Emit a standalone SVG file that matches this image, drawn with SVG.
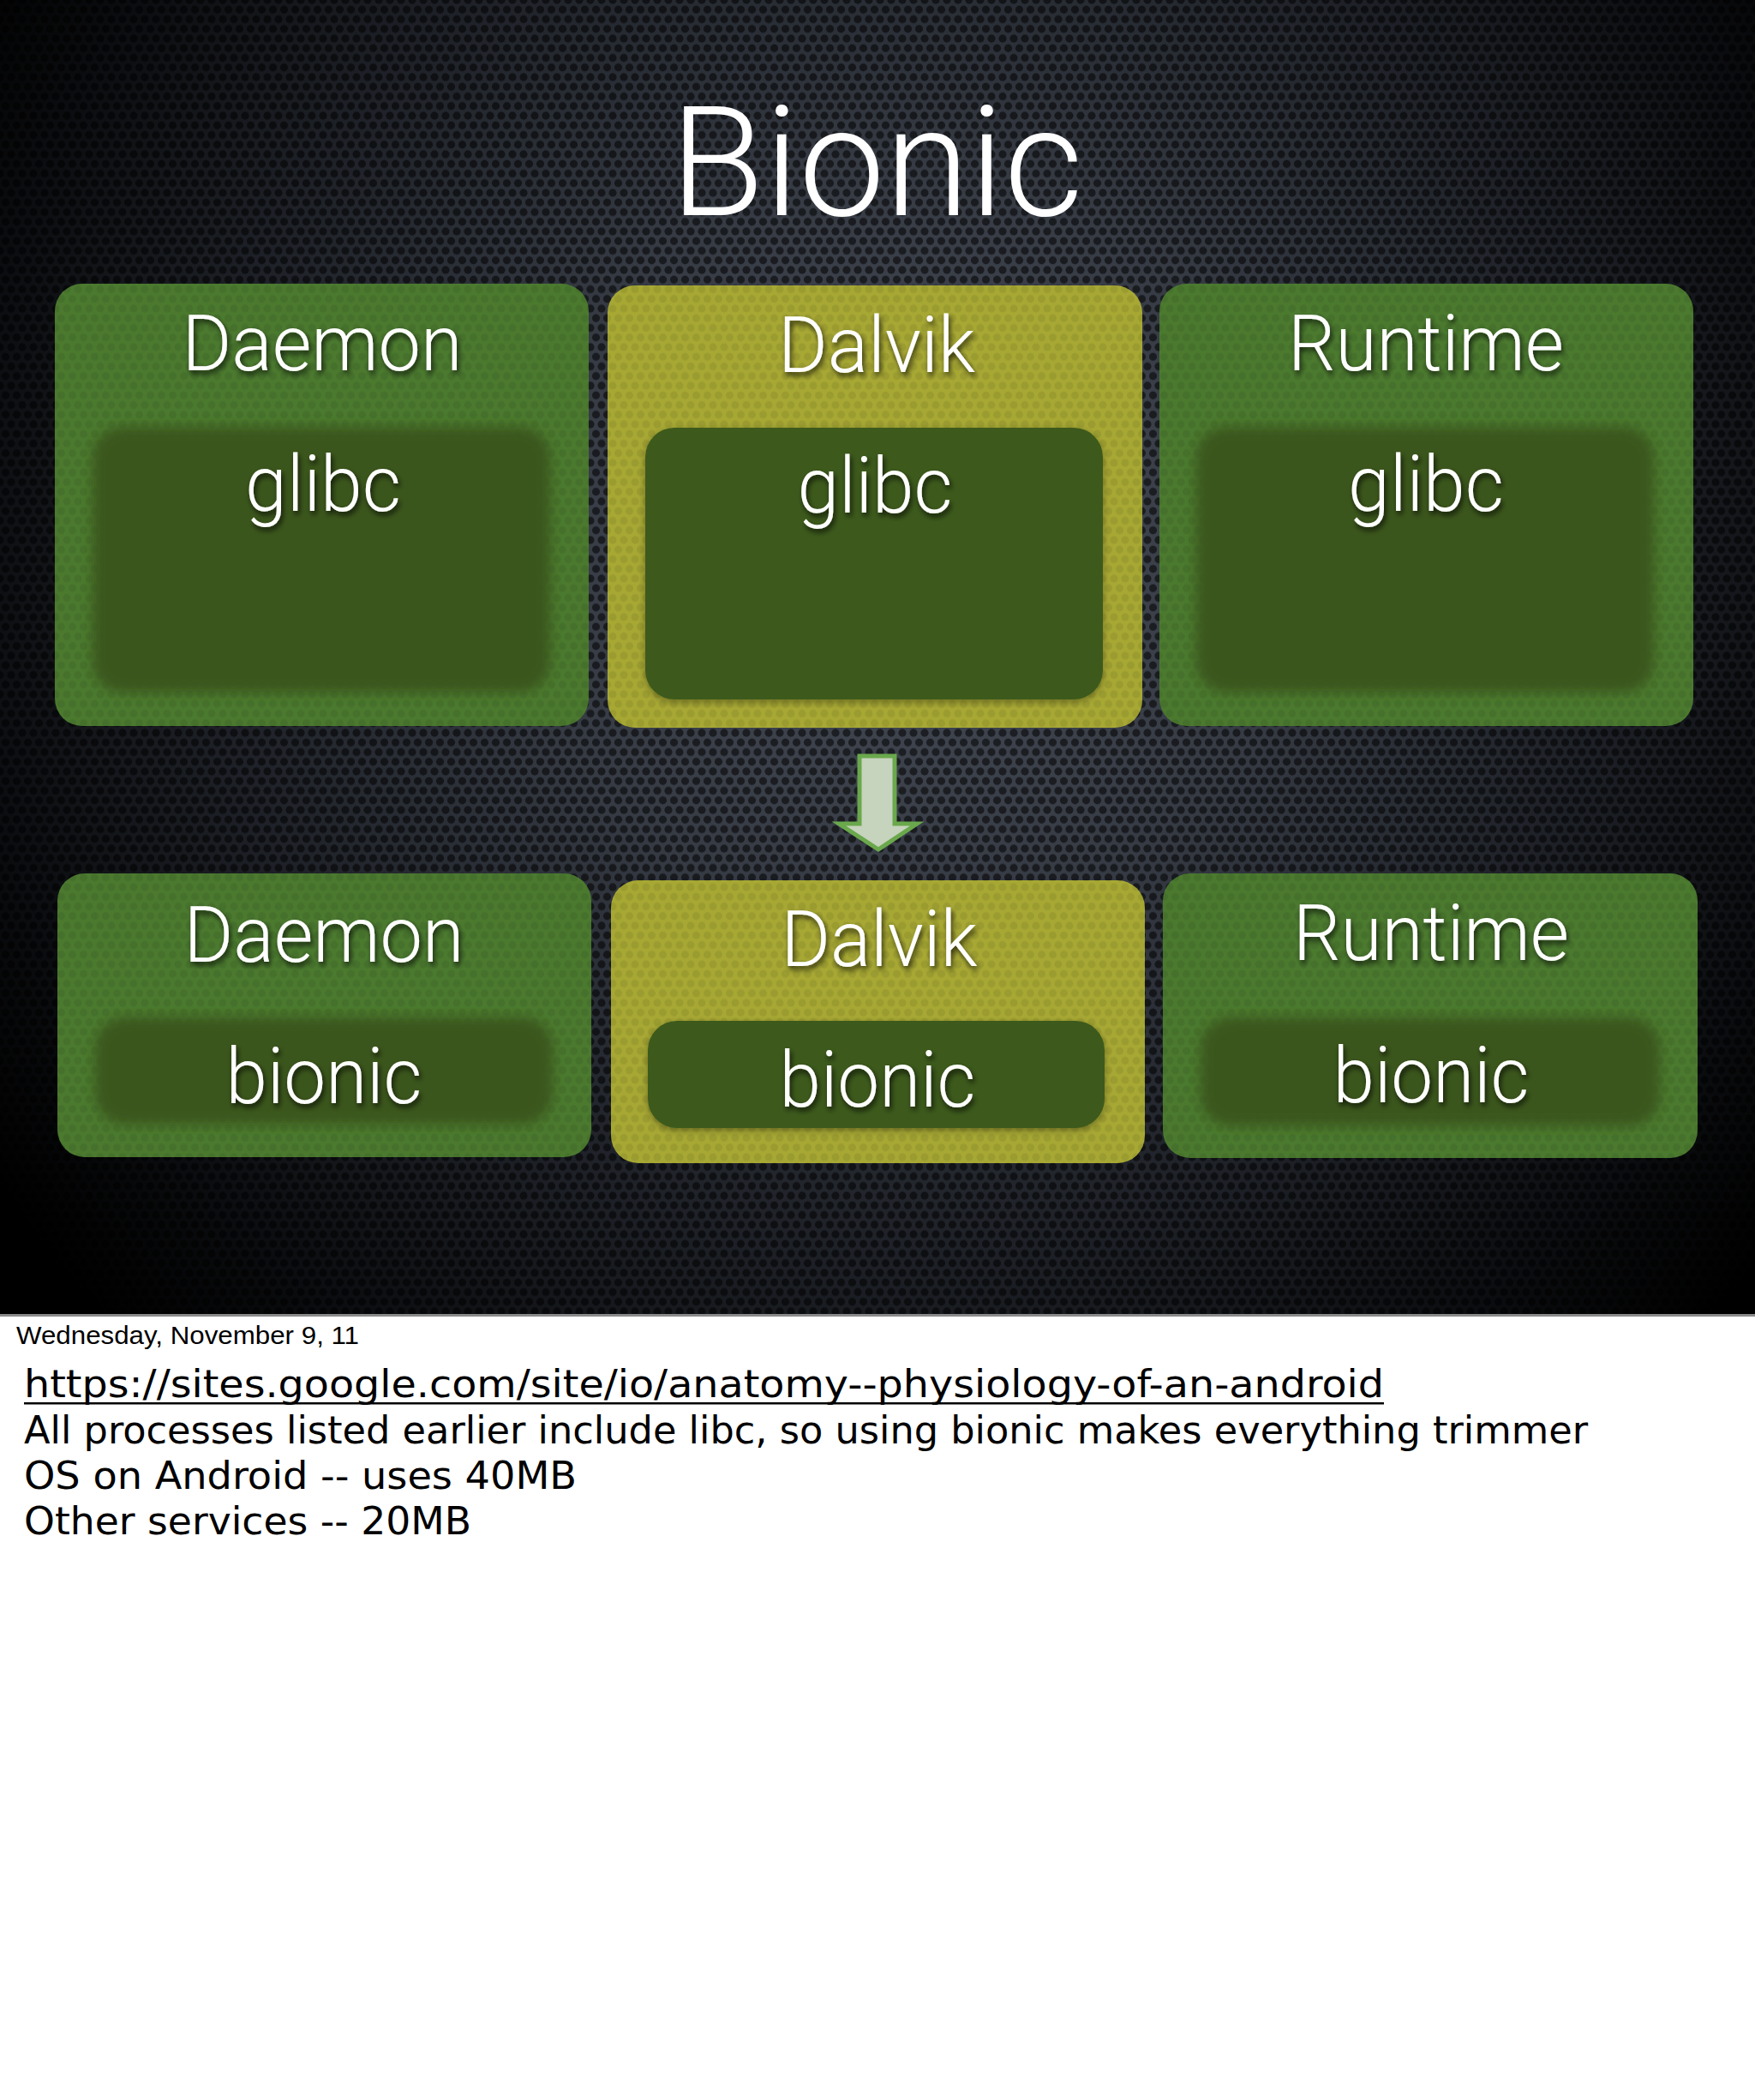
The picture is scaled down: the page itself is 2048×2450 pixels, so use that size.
<svg xmlns="http://www.w3.org/2000/svg" width="2048" height="2450" viewBox="0 0 2048 2450">
<defs>
  <radialGradient id="bg" gradientUnits="userSpaceOnUse" cx="1060" cy="640" r="1300">
    <stop offset="0" stop-color="#454b55"/>
    <stop offset="0.35" stop-color="#353a43"/>
    <stop offset="0.65" stop-color="#1c1f25"/>
    <stop offset="0.9" stop-color="#07080a"/>
    <stop offset="1" stop-color="#000"/>
  </radialGradient>
  <pattern id="holes" patternUnits="userSpaceOnUse" width="13" height="22.5">
    <circle cx="0" cy="0" r="4.6" fill="#000"/>
    <circle cx="13" cy="0" r="4.6" fill="#000"/>
    <circle cx="6.5" cy="11.25" r="4.6" fill="#000"/>
    <circle cx="0" cy="22.5" r="4.6" fill="#000"/>
    <circle cx="13" cy="22.5" r="4.6" fill="#000"/>
  </pattern>
  <filter id="tshadow" x="-20%" y="-20%" width="140%" height="160%">
    <feDropShadow dx="2" dy="4" stdDeviation="3" flood-color="#000" flood-opacity="0.75"/>
  </filter>
  <filter id="soft" x="-10%" y="-10%" width="120%" height="120%">
    <feGaussianBlur stdDeviation="7"/>
  </filter>
  <filter id="ishadow" x="-10%" y="-10%" width="120%" height="130%">
    <feDropShadow dx="0" dy="3" stdDeviation="4" flood-color="#000" flood-opacity="0.35"/>
  </filter>
  <style>
    .green { fill: #4b7a2f; }
    .yellow { fill: #a7a834; }
    .inner { fill: #3a571c; }
    .tex { fill: url(#holes); opacity: 0.07; }
    .lbl { font-family: Roboto, "Liberation Sans", Arial, sans-serif; font-weight: 300; font-size: 90px; fill: #fff; text-anchor: middle; filter: url(#tshadow); }
    .title { font-family: Roboto, "Liberation Sans", Arial, sans-serif; font-weight: 300; font-size: 178px; fill: #fff; text-anchor: middle; }
    .note { font-family: "DejaVu Sans", "Noto Sans", sans-serif; font-size: 44px; fill: #000; }
    .date { font-family: "Liberation Sans", Arial, sans-serif; font-size: 29px; fill: #000; }
  </style>
</defs>

<!-- slide background -->
<rect x="0" y="0" width="2048" height="1535" fill="url(#bg)"/>
<rect x="0" y="0" width="2048" height="1535" fill="url(#holes)" opacity="0.55"/>

<!-- footer area -->
<rect x="0" y="1535" width="2048" height="915" fill="#fff"/>
<rect x="0" y="1533" width="2048" height="3" fill="#8a8a8a"/>

<text class="title" x="1023" y="251" textLength="482" lengthAdjust="spacingAndGlyphs">Bionic</text>

<g id="node-daemon-glibc">
  <rect class="green" x="64" y="331" width="623" height="516" rx="32"/>
  <rect class="tex" x="64" y="331" width="623" height="516" rx="32"/>
  <rect class="inner" x="108" y="498" width="534" height="310" rx="36" filter="url(#soft)"/>
  <text class="lbl" x="376" y="432" textLength="327" lengthAdjust="spacingAndGlyphs">Daemon</text>
  <text class="lbl" x="377" y="596" textLength="182" lengthAdjust="spacingAndGlyphs">glibc</text>
</g>

<g id="node-dalvik-glibc">
  <rect class="yellow" x="709" y="333" width="624" height="516" rx="32"/>
  <rect class="tex" x="709" y="333" width="624" height="516" rx="32"/>
  <rect class="inner" x="753" y="499" width="534" height="317" rx="34" filter="url(#ishadow)" style="fill:#3d5a1b"/>
  <text class="lbl" x="1023" y="434" textLength="230" lengthAdjust="spacingAndGlyphs">Dalvik</text>
  <text class="lbl" x="1021" y="598" textLength="181" lengthAdjust="spacingAndGlyphs">glibc</text>
</g>

<g id="node-runtime-glibc">
  <rect class="green" x="1353" y="331" width="623" height="516" rx="32"/>
  <rect class="tex" x="1353" y="331" width="623" height="516" rx="32"/>
  <rect class="inner" x="1396" y="498" width="534" height="310" rx="36" filter="url(#soft)"/>
  <text class="lbl" x="1664" y="432" textLength="322" lengthAdjust="spacingAndGlyphs">Runtime</text>
  <text class="lbl" x="1664" y="596" textLength="182" lengthAdjust="spacingAndGlyphs">glibc</text>
</g>

<g id="connectors">
  <polygon points="1003,882 1044,882 1044,961 1070,961 1025,991 979,961 1003,961" fill="#c6d3bd" stroke="#6aa84c" stroke-width="5" stroke-linejoin="miter"/>
</g>

<g id="node-daemon-bionic">
  <rect class="green" x="67" y="1019" width="623" height="331" rx="32"/>
  <rect class="tex" x="67" y="1019" width="623" height="331" rx="32"/>
  <rect class="inner" x="111" y="1187" width="534" height="125" rx="36" filter="url(#soft)"/>
  <text class="lbl" x="378" y="1122" textLength="327" lengthAdjust="spacingAndGlyphs">Daemon</text>
  <text class="lbl" x="378" y="1287" textLength="229" lengthAdjust="spacingAndGlyphs">bionic</text>
</g>

<g id="node-dalvik-bionic">
  <rect class="yellow" x="713" y="1027" width="623" height="330" rx="32"/>
  <rect class="tex" x="713" y="1027" width="623" height="330" rx="32"/>
  <rect class="inner" x="756" y="1191" width="533" height="125" rx="34" filter="url(#ishadow)" style="fill:#3d5a1b"/>
  <text class="lbl" x="1026" y="1127" textLength="229" lengthAdjust="spacingAndGlyphs">Dalvik</text>
  <text class="lbl" x="1024" y="1291" textLength="229" lengthAdjust="spacingAndGlyphs">bionic</text>
</g>

<g id="node-runtime-bionic">
  <rect class="green" x="1357" y="1019" width="624" height="332" rx="32"/>
  <rect class="tex" x="1357" y="1019" width="624" height="332" rx="32"/>
  <rect class="inner" x="1401" y="1187" width="536" height="127" rx="36" filter="url(#soft)"/>
  <text class="lbl" x="1670" y="1120" textLength="322" lengthAdjust="spacingAndGlyphs">Runtime</text>
  <text class="lbl" x="1670" y="1286" textLength="229" lengthAdjust="spacingAndGlyphs">bionic</text>
</g>

<!-- notes -->
<text class="date" x="19" y="1568" textLength="400" lengthAdjust="spacingAndGlyphs">Wednesday, November 9, 11</text>
<text class="note" x="28" y="1630" textLength="1587" lengthAdjust="spacingAndGlyphs">https://sites.google.com/site/io/anatomy--physiology-of-an-android</text>
<rect x="28" y="1636" width="1587" height="2.5" fill="#000"/>
<text class="note" x="28" y="1684" textLength="1825" lengthAdjust="spacingAndGlyphs">All processes listed earlier include libc, so using bionic makes everything trimmer</text>
<text class="note" x="28" y="1737" textLength="645" lengthAdjust="spacingAndGlyphs">OS on Android -- uses 40MB</text>
<text class="note" x="28" y="1790" textLength="522" lengthAdjust="spacingAndGlyphs">Other services -- 20MB</text>
</svg>
